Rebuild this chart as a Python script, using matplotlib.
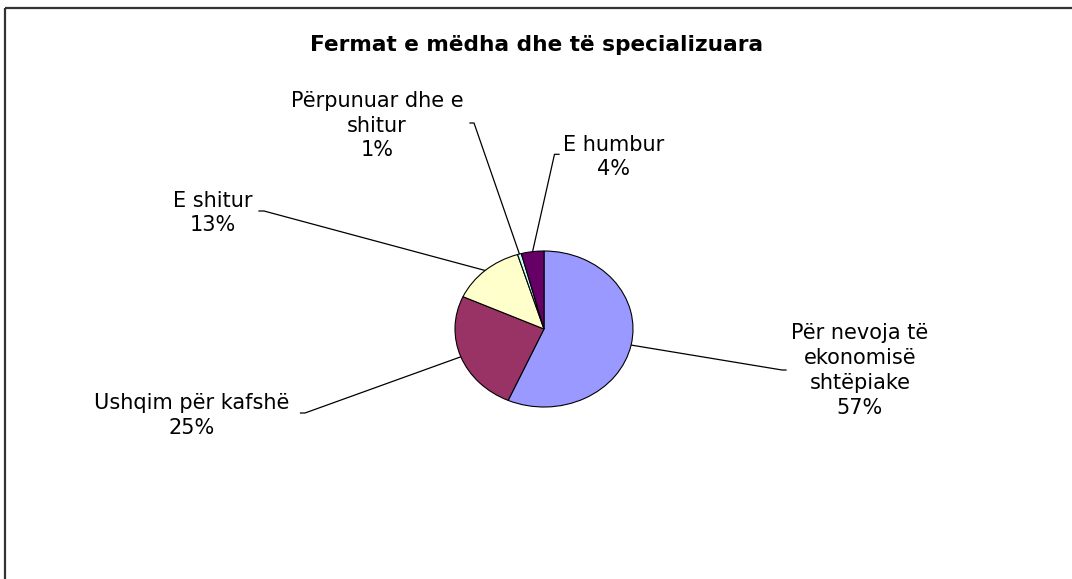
import numpy as np
import matplotlib
matplotlib.use("Agg")
import matplotlib.pyplot as plt

# shares of production use, large and specialised farms
categories = ["Për nevoja të\nekonomisë\nshtëpiake", "Ushqim për kafshë", "E shitur",
              "Përpunuar dhe e\nshitur", "E humbur"]
values = [56.6, 25.2, 13.4, 0.7, 4.1]
colors = ["#9999FF", "#993366", "#FFFFCC", "#CCFFFF", "#660066"]
title = "Fermat e mëdha dhe të specializuara"

W, H = 1072, 579
fig = plt.figure(figsize=(W / 100, H / 100), dpi=100)
plt.rcParams['font.family'] = ['DejaVu Sans']

# overlay in image pixel coords (y down) for labels, leaders and frame
over = fig.add_axes([0, 0, 1, 1])
over.set_xlim(0, W)
over.set_ylim(H, 0)
over.axis('off')

# pie axes: stretched ellipse like the original
cx, cy, rx, ry = 544, 329, 89, 78
ax = fig.add_axes([(cx - rx) / W, (H - cy - ry) / H, 2 * rx / W, 2 * ry / H])
wedges, _ = ax.pie(values, colors=colors, startangle=90, counterclock=False,
                   wedgeprops=dict(edgecolor='black', linewidth=0.8))
ax.set_aspect('auto')
ax.set_xlim(-1, 1)
ax.set_ylim(-1, 1)
ax.axis('off')

# label layout: text centre, then leader end and short tick end (pixels)
label_pos = [(860, 370.5), (192, 415.5), (213, 213), (377, 125.5), (614, 157)]
leader_end = [((782, 370), (786, 370)), ((305, 413), (300.5, 413)),
              ((264, 211), (259, 211)), ((474, 123), (470, 123)),
              ((554.5, 154.3), (559, 154.3))]

to_over = over.transData.inverted()
for w, name, v, (tx, ty), (p1, p2) in zip(wedges, categories, values, label_pos, leader_end):
    mid = np.deg2rad((w.theta1 + w.theta2) / 2)
    ex, ey = to_over.transform(ax.transData.transform((np.cos(mid), np.sin(mid))))
    over.plot([ex, p1[0], p2[0]], [ey, p1[1], p2[1]], color='black', lw=0.9)
    over.text(tx, ty, f"{name}\n{round(v)}%", ha='center', va='center',
              fontsize=15, linespacing=1.3, color='black')

over.text(W / 2 + 1, 45, title, ha='center', va='center', fontsize=15.6,
          fontweight='bold', color='black')

# partial chart frame (top and left edges only visible)
over.plot([4.5, W], [7.5, 7.5], color='#333333', lw=1.6, solid_capstyle='butt')
over.plot([4.5, 4.5], [7.5, H], color='#333333', lw=1.6, solid_capstyle='butt')

fig.savefig("out.png", dpi=100)
